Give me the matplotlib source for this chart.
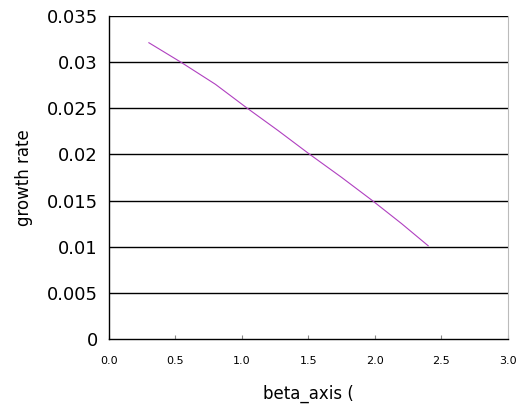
import numpy as np
import matplotlib.pyplot as plt

# values
beta = [0.30, 0.54, 0.80, 1.04, 1.27, 1.51, 1.75, 1.98, 2.20, 2.40]
rate = [0.0321, 0.0300, 0.0276, 0.0250, 0.0226, 0.0200, 0.0175, 0.0150, 0.0125, 0.0101]

xticks = [0.0, 0.5, 1.0, 1.5, 2.0, 2.5, 3.0]
yticks = [0, 0.005, 0.01, 0.015, 0.02, 0.025, 0.03, 0.035]
ylabels = ['0', '0.005', '0.01', '0.015', '0.02', '0.025', '0.03', '0.035']

fig = plt.figure(figsize=(5.23, 4.12), dpi=100, facecolor='#FFFFFF')
ax = fig.add_axes([0.2084, 0.1772, 0.7629, 0.784])

for y in yticks[1:]:
    ax.axhline(y, color='black', lw=1.0, zorder=1)

ax.plot(beta, rate, color='#B040C0', lw=0.8, zorder=3)

ax.set_xlim(0, 3.0)
ax.set_ylim(0, 0.035)
ax.set_xticks(xticks)
ax.set_xticklabels(['%.1f' % t for t in xticks], fontsize=8)
ax.set_yticks(yticks)
ax.set_yticklabels(ylabels, fontsize=13)
ax.tick_params(axis='x', direction='in', length=3, color='#888888', pad=12)
ax.tick_params(axis='y', length=0, pad=8)

ax.spines['top'].set_visible(False)
ax.spines['right'].set_color('#BBBBBB')
ax.spines['left'].set_color('black')
ax.spines['bottom'].set_color('black')
ax.spines['left'].set_linewidth(1.0)
ax.spines['bottom'].set_linewidth(1.0)

ax.set_xlabel('beta_axis (', fontsize=12, labelpad=14)
ax.set_ylabel('growth rate', fontsize=12, labelpad=10)

plt.savefig('out.png', dpi=100)
